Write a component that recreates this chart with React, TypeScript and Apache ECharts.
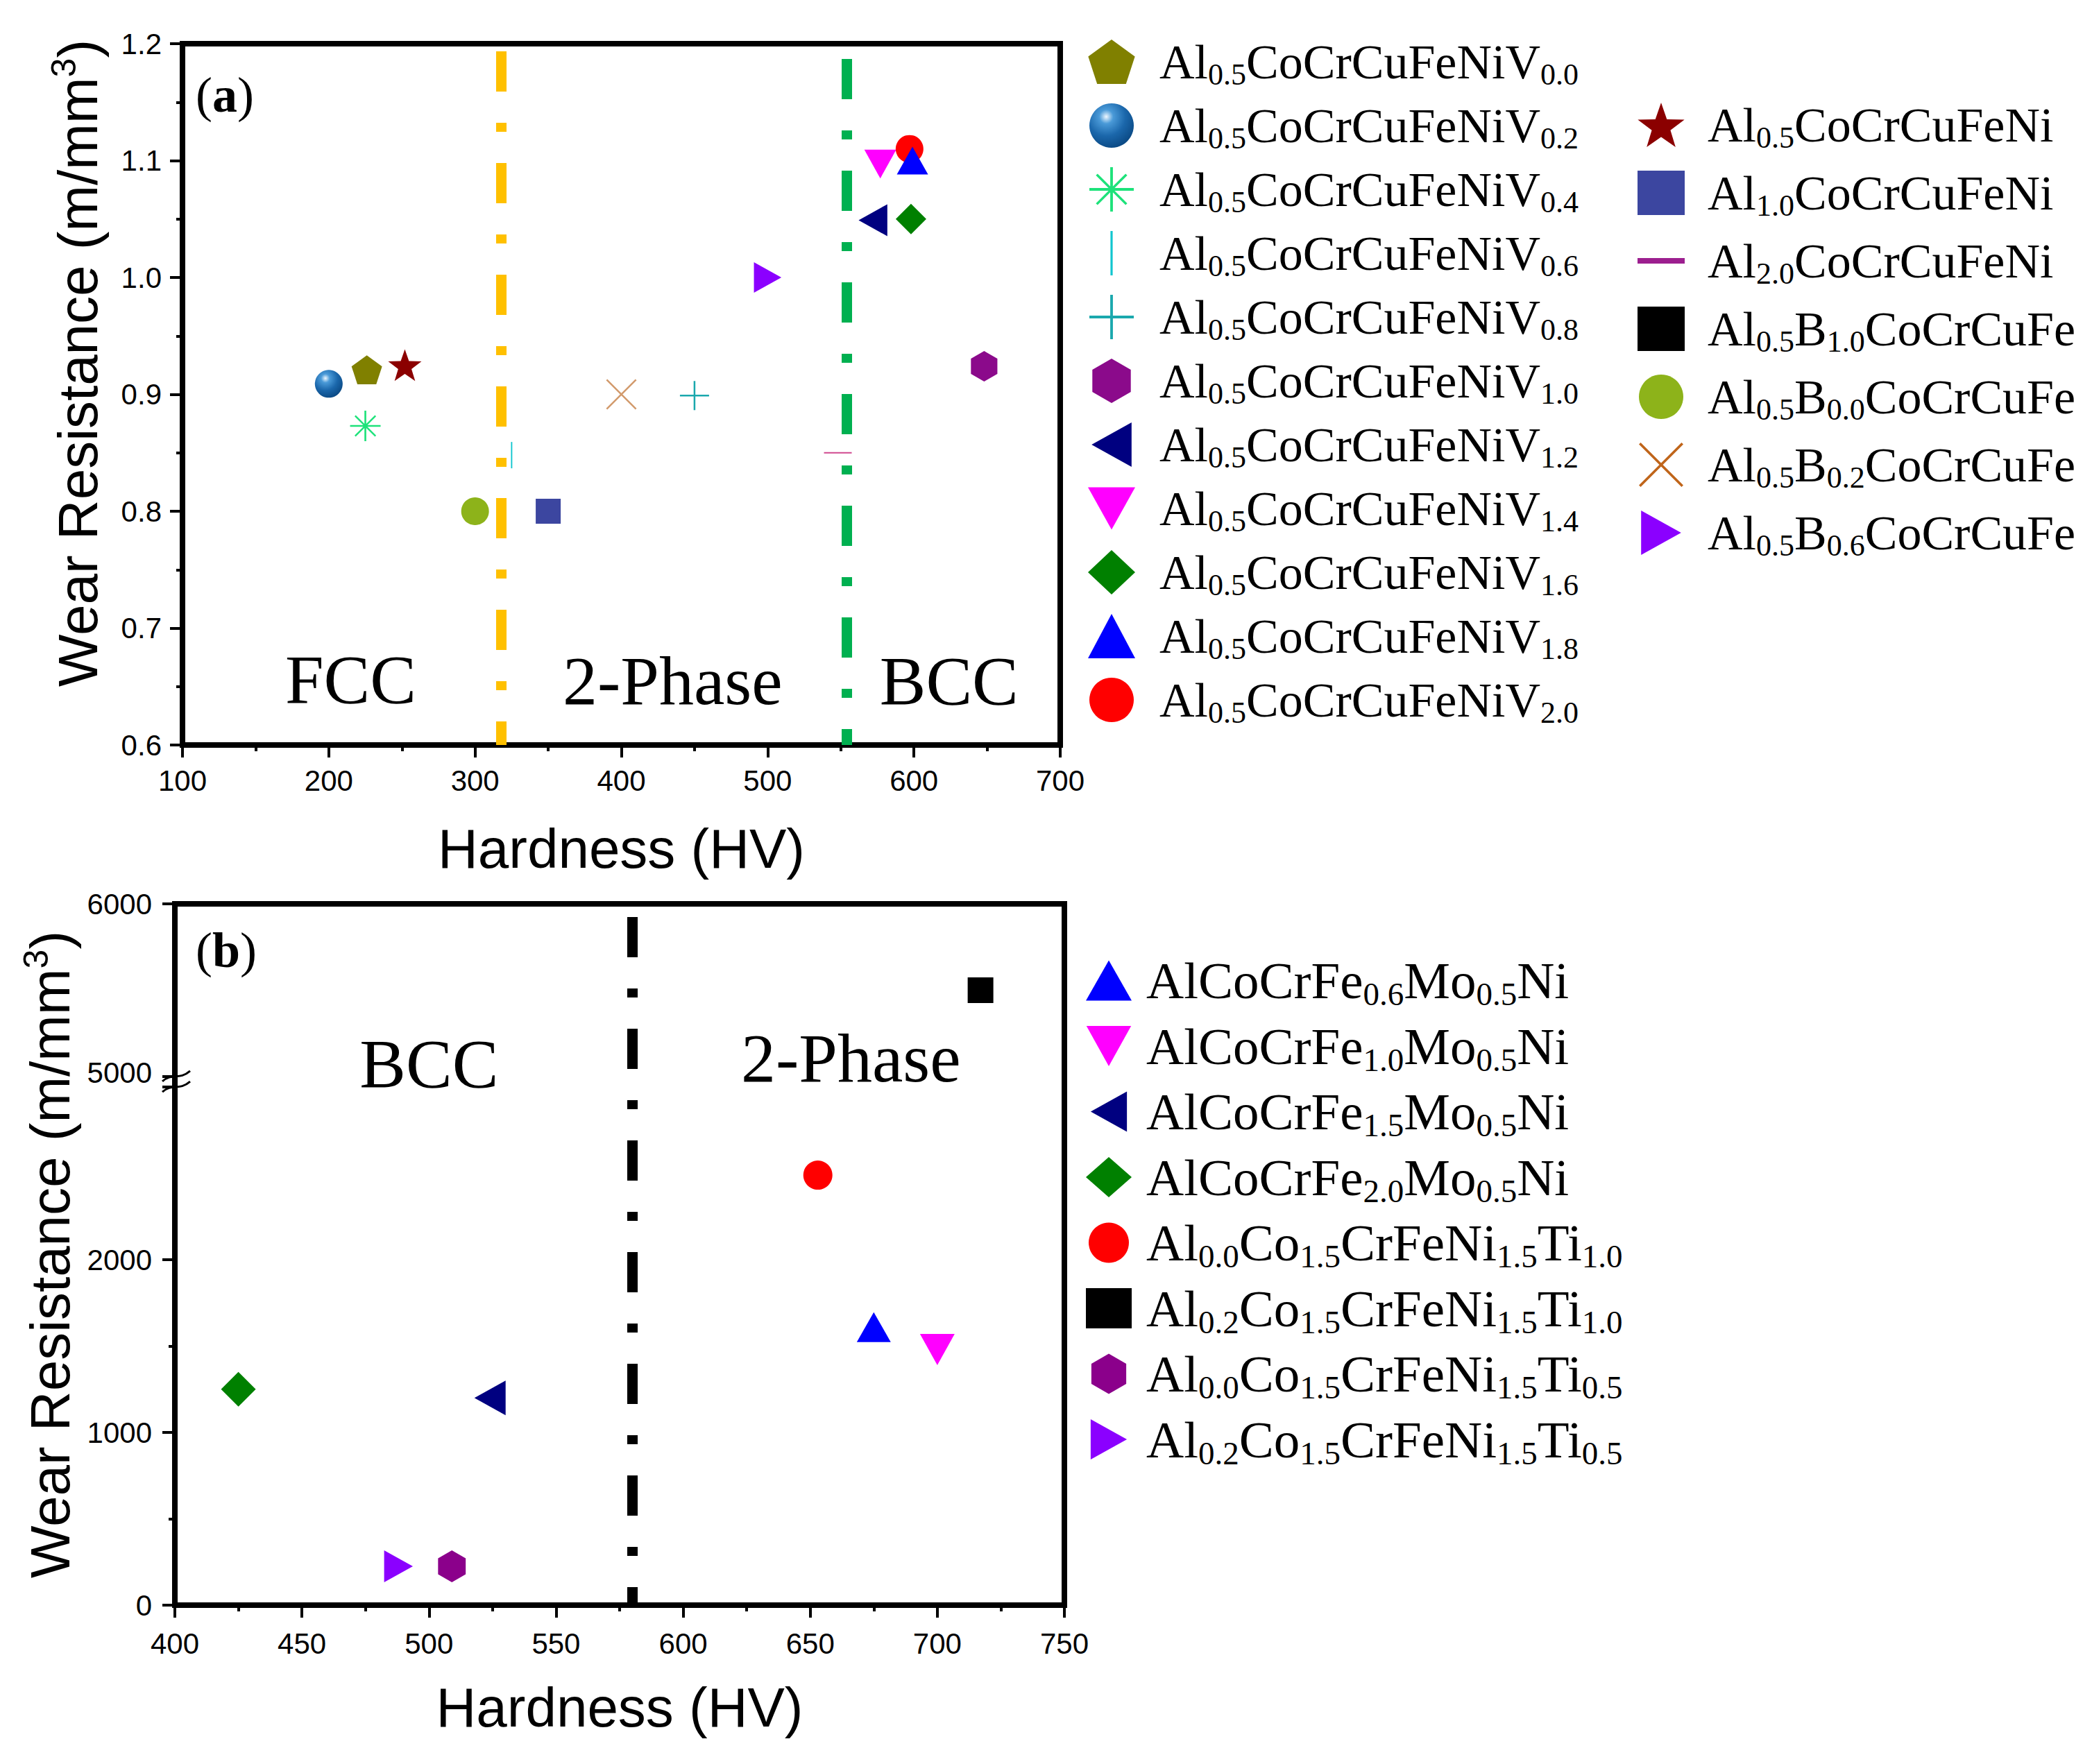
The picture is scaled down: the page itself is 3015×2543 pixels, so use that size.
import { useEffect, useRef } from 'react';
import * as echarts from 'echarts';

// ---------- panel (a) data ----------
const namesA = [
  'Al_{0.5}CoCrCuFeNiV_{0.0}',
  'Al_{0.5}CoCrCuFeNiV_{0.2}',
  'Al_{0.5}CoCrCuFeNiV_{0.4}',
  'Al_{0.5}CoCrCuFeNiV_{0.6}',
  'Al_{0.5}CoCrCuFeNiV_{0.8}',
  'Al_{0.5}CoCrCuFeNiV_{1.0}',
  'Al_{0.5}CoCrCuFeNiV_{1.2}',
  'Al_{0.5}CoCrCuFeNiV_{1.4}',
  'Al_{0.5}CoCrCuFeNiV_{1.6}',
  'Al_{0.5}CoCrCuFeNiV_{1.8}',
  'Al_{0.5}CoCrCuFeNiV_{2.0}',
  'Al_{0.5}CoCrCuFeNi',
  'Al_{1.0}CoCrCuFeNi',
  'Al_{2.0}CoCrCuFeNi',
  'Al_{0.5}B_{1.0}CoCrCuFe',
  'Al_{0.5}B_{0.0}CoCrCuFe',
  'Al_{0.5}B_{0.2}CoCrCuFe',
  'Al_{0.5}B_{0.6}CoCrCuFe',
];
const hardnessA = [226, 200, 225, 325, 450, 648, 572, 577, 598, 599, 597, 252, 350, 548, null, 300, 400, 500];
const wearA = [0.921, 0.909, 0.873, 0.848, 0.899, 0.924, 1.049, 1.097, 1.05, 1.1, 1.11, 0.925, 0.8, 0.85, null, 0.8, 0.9, 1.0];

const phaseLinesA = [318, 554];
const regionTextA = ['FCC', '2-Phase', 'BCC'];
const regionXA = [215, 435, 624];
const regionYA = [0.656, 0.655, 0.655];

// ---------- panel (b) data ----------
const namesB = [
  'AlCoCrFe_{0.6}Mo_{0.5}Ni',
  'AlCoCrFe_{1.0}Mo_{0.5}Ni',
  'AlCoCrFe_{1.5}Mo_{0.5}Ni',
  'AlCoCrFe_{2.0}Mo_{0.5}Ni',
  'Al_{0.0}Co_{1.5}CrFeNi_{1.5}Ti_{1.0}',
  'Al_{0.2}Co_{1.5}CrFeNi_{1.5}Ti_{1.0}',
  'Al_{0.0}Co_{1.5}CrFeNi_{1.5}Ti_{0.5}',
  'Al_{0.2}Co_{1.5}CrFeNi_{1.5}Ti_{0.5}',
];
const hardnessB = [675, 700, 524, 425, 653, 717, 509, 488];
const wearB = [1610, 1480, 1200, 1250, 2490, 5500, 225, 225];

const phaseLinesB = [580];
const regionTextB = ['BCC', '2-Phase'];
const regionXB = [500, 666];
const regionYB = [5075, 5105];

// ---------- symbols ----------
const SYM = {
  pentagon: 'path://M0,-10L9.51,-3.09L5.88,8.09L-5.88,8.09L-9.51,-3.09Z',
  hexagon: 'path://M0,-10L8.66,-5L8.66,5L0,10L-8.66,5L-8.66,-5Z',
  star: 'path://M0,-10L2.35,-3.24L9.51,-3.09L3.8,1.24L5.88,8.09L0,4L-5.88,8.09L-3.8,1.24L-9.51,-3.09L-2.35,-3.24Z',
  left: 'path://M0,5L9,0L9,10Z',
  right: 'path://M0,0L9,5L0,10Z',
  down: 'path://M0,0L10,0L5,9Z',
  vline: 'path://M0,0L1,0L1,20L0,20Z',
  hline: 'path://M0,0L20,0L20,1L0,1Z',
  hlineThick: 'path://M0,0L20,0L20,2.4L0,2.4Z',
  plus: 'path://M9.4,0L10.6,0L10.6,20L9.4,20Z M0,9.4L20,9.4L20,10.6L0,10.6Z',
  cross: 'path://M0,0.8L0.8,0L20,19.2L19.2,20Z M0.8,20L0,19.2L19.2,0L20,0.8Z',
  asterisk:
    'path://M9.4,0L10.6,0L10.6,20L9.4,20Z M0,9.4L20,9.4L20,10.6L0,10.6Z ' +
    'M2.93,3.7L3.7,2.93L17.07,16.3L16.3,17.07Z M3.7,17.07L2.93,16.3L16.3,2.93L17.07,3.7Z',
};

const sphereFill = new echarts.graphic.RadialGradient(0.38, 0.3, 0.72, [
  { offset: 0, color: '#eef7ff' },
  { offset: 0.22, color: '#4a9ad8' },
  { offset: 0.6, color: '#1b67ab' },
  { offset: 1, color: '#0b4a85' },
]);

type Sty = { symbol: string; size: number | number[]; color: any; z?: number };

const styleA: Sty[] = [
  { symbol: SYM.pentagon, size: 44, color: '#808000' },
  { symbol: 'circle', size: 40, color: sphereFill },
  { symbol: SYM.asterisk, size: 44, color: '#1de27a' },
  { symbol: SYM.vline, size: 38, color: '#12c6cf' },
  { symbol: SYM.plus, size: 42, color: '#1aa8ad' },
  { symbol: SYM.hexagon, size: 44, color: '#8b0a8b' },
  { symbol: SYM.left, size: 46, color: '#000080' },
  { symbol: SYM.down, size: 46, color: '#ff00ff' },
  { symbol: 'diamond', size: 44, color: '#008000' },
  { symbol: 'triangle', size: [45, 40], color: '#0000ff', z: 4 },
  { symbol: 'circle', size: 40, color: '#ff0000' },
  { symbol: SYM.star, size: 48, color: '#8b0000' },
  { symbol: 'rect', size: 36, color: '#3c46a0' },
  { symbol: SYM.hline, size: 40, color: '#d0488e' },
  { symbol: 'rect', size: 36, color: '#000000' },
  { symbol: 'circle', size: 40, color: '#8db31a' },
  { symbol: SYM.cross, size: 44, color: '#d29a6c' },
  { symbol: SYM.right, size: 44, color: '#8b00ff' },
];

// legend icons that differ from the plotted marks
const legendIconA: Record<number, { icon?: string; color: string }> = {
  13: { icon: SYM.hlineThick, color: '#9c1f8f' },
  16: { color: '#c0651a' },
};

const styleB: Sty[] = [
  { symbol: 'triangle', size: [49, 43], color: '#0000ff' },
  { symbol: SYM.down, size: 50, color: '#ff00ff' },
  { symbol: SYM.left, size: 50, color: '#000080' },
  { symbol: 'diamond', size: 50, color: '#008000' },
  { symbol: 'circle', size: 42, color: '#ff0000' },
  { symbol: 'rect', size: 37, color: '#000000' },
  { symbol: SYM.hexagon, size: 46, color: '#8b008b' },
  { symbol: SYM.right, size: 46, color: '#8b00ff' },
];

const SANS = 'Liberation Sans';
const SERIF = 'Liberation Serif';
const DASH = [58, 45, 13, 45];

// 'Al_{0.5}Co' -> rich text with subscripts
const toRich = (name: string) =>
  '{sp| }' +
  name
    .split(/(_\{[^}]*\})/)
    .filter((s) => s.length)
    .map((s) => (s.startsWith('_{') ? `{s|${s.slice(2, -1)}}` : `{m|${s}}`))
    .join('');

const legendRich = (size: number, sub: number, lh: number, sp: number) => ({
  sp: { width: sp, fontSize: 10 },
  m: { fontFamily: SERIF, fontSize: size, lineHeight: lh, color: '#000' },
  s: { fontFamily: SERIF, fontSize: sub, lineHeight: 30, verticalAlign: 'bottom', color: '#000' },
});

const axisBase = {
  axisLine: { show: true, onZero: false, lineStyle: { color: '#000', width: 8 } },
  axisTick: { show: true, inside: false, length: 18, lineStyle: { color: '#000', width: 4 } },
  minorTick: { show: true, splitNumber: 2, length: 9, lineStyle: { color: '#000', width: 4 } },
  splitLine: { show: false },
  minorSplitLine: { show: false },
  nameLocation: 'middle',
};

const labelStyle = { color: '#000', fontSize: 42, fontFamily: SANS };
const nameStyle = { color: '#000', fontSize: 80, fontFamily: SANS, lineHeight: 90 };
const yNameRich = {
  a: { color: '#000', fontSize: 80, fontFamily: SANS, lineHeight: 90 },
  u: { color: '#000', fontSize: 50, fontFamily: SANS, lineHeight: 56, verticalAlign: 'top' },
};
const yName = '{a|Wear Resistance (m/mm}{u|3}{a|)}';

const scatterSeries = (
  names: string[],
  xs: (number | null)[],
  ys: (number | null)[],
  styles: Sty[],
  axis: number
) =>
  names.map((name, i) => ({
    type: 'scatter',
    name,
    xAxisIndex: axis,
    yAxisIndex: axis,
    symbol: styles[i].symbol,
    symbolSize: styles[i].size,
    symbolKeepAspect: true,
    itemStyle: { color: styles[i].color, opacity: 1 },
    z: styles[i].z ?? 2,
    emphasis: { disabled: true },
    data: xs[i] == null || ys[i] == null ? [] : [[xs[i], ys[i]]],
  }));

const phaseLine = (x: number, color: string, offset: number) => ({
  xAxis: x,
  lineStyle: { color, width: 15, type: DASH, dashOffset: offset, cap: 'butt' },
});

const regionSeries = (xs: number[], ys: number[], texts: string[], axis: number) => ({
  type: 'scatter',
  name: `region${axis}`,
  xAxisIndex: axis,
  yAxisIndex: axis,
  symbol: 'circle',
  symbolSize: 1,
  silent: true,
  z: 5,
  itemStyle: { color: '#fff', opacity: 0 },
  label: {
    show: true,
    position: 'inside',
    formatter: (p: any) => texts[p.dataIndex],
    fontFamily: SERIF,
    fontSize: 100,
    color: '#000',
    opacity: 1,
    textBorderWidth: 0,
  },
  data: xs.map((x, i) => [x, ys[i]]),
});

function buildOption(): any {
  const seriesA: any[] = scatterSeries(namesA, hardnessA, wearA, styleA, 0);
  seriesA[0].markLine = {
    silent: true,
    symbol: 'none',
    label: { show: false },
    emphasis: { disabled: true },
    data: [phaseLine(phaseLinesA[0], '#ffc000', 24), phaseLine(phaseLinesA[1], '#00b050', 35)],
  };
  const seriesB: any[] = scatterSeries(namesB, hardnessB, wearB, styleB, 1);
  seriesB[0].markLine = {
    silent: true,
    symbol: 'none',
    label: { show: false },
    emphasis: { disabled: true },
    data: [phaseLine(phaseLinesB[0], '#000000', 32)],
  };

  const richTitle = {
    p: { fontFamily: SERIF, fontSize: 72, lineHeight: 72, fontWeight: 'normal', color: '#000' },
    b: { fontFamily: SERIF, fontSize: 72, lineHeight: 72, fontWeight: 'bold', color: '#000' },
  };

  const legendItems = (names: string[], offset: number) =>
    names.map((name, i) => {
      const o = legendIconA[i + offset];
      return o ? { name, ...(o.icon ? { icon: o.icon } : {}), itemStyle: { color: o.color } } : { name };
    });

  return {
    animation: false,
    backgroundColor: '#fff',
    textStyle: { fontFamily: SANS },
    title: [
      { text: '{p|(}{b|a}{p|)}', left: 282, top: 101, padding: 0, textStyle: { fontWeight: 'normal', rich: richTitle } },
      { text: '{p|(}{b|b}{p|)}', left: 282, top: 1334, padding: 0, textStyle: { fontWeight: 'normal', rich: richTitle } },
    ],
    grid: [
      { left: 263, top: 63, width: 1265, height: 1011, show: true, borderColor: '#000', borderWidth: 8, backgroundColor: 'transparent', outerBoundsMode: 'none' },
      { left: 252, top: 1303, width: 1282, height: 1011, show: true, borderColor: '#000', borderWidth: 8, backgroundColor: 'transparent', outerBoundsMode: 'none' },
    ],
    xAxis: [
      {
        ...axisBase,
        type: 'value',
        gridIndex: 0,
        min: 100,
        max: 700,
        interval: 100,
        name: 'Hardness (HV)',
        nameGap: 104,
        nameTextStyle: nameStyle,
        axisLabel: { ...labelStyle, margin: 30 },
      },
      {
        ...axisBase,
        type: 'value',
        gridIndex: 1,
        min: 400,
        max: 750,
        interval: 50,
        name: 'Hardness (HV)',
        nameGap: 102,
        nameTextStyle: nameStyle,
        axisLabel: { ...labelStyle, margin: 34 },
      },
    ],
    yAxis: [
      {
        ...axisBase,
        type: 'value',
        gridIndex: 0,
        min: 0.6,
        max: 1.2,
        interval: 0.1,
        name: yName,
        nameGap: 106,
        nameTextStyle: { rich: yNameRich, padding: [0, 0, 0, 90] },
        axisLabel: { ...labelStyle, margin: 30, formatter: (v: number) => v.toFixed(1) },
      },
      {
        ...axisBase,
        type: 'value',
        gridIndex: 1,
        min: 0,
        max: 6000,
        interval: 1000,
        breaks: [{ start: 3000, end: 5000, gap: '1.5%' }],
        breakArea: { show: false },
        name: yName,
        nameGap: 135,
        nameTextStyle: { rich: yNameRich },
        axisLabel: { ...labelStyle, margin: 33, formatter: (v: number) => (v === 3000 ? '' : String(v)) },
      },
    ],
    legend: [
      {
        data: legendItems(namesA.slice(0, 11), 0),
        orient: 'vertical',
        left: 1568,
        top: 54,
        padding: 0,
        itemGap: 17,
        itemWidth: 68,
        itemHeight: 64,
        selectedMode: false,
        formatter: toRich,
        textStyle: { rich: legendRich(70, 44, 80, 30) },
      },
      {
        data: legendItems(namesA.slice(11), 11),
        orient: 'vertical',
        left: 2360,
        top: 145,
        padding: 0,
        itemGap: 23,
        itemWidth: 68,
        itemHeight: 64,
        selectedMode: false,
        formatter: toRich,
        textStyle: { rich: legendRich(70, 44, 80, 28) },
      },
      {
        data: namesB,
        orient: 'vertical',
        left: 1565,
        top: 1376,
        padding: 0,
        itemGap: 14,
        itemWidth: 66,
        itemHeight: 58,
        selectedMode: false,
        formatter: toRich,
        textStyle: { rich: legendRich(75, 47, 86, 16) },
      },
    ],
    series: [
      ...seriesA,
      regionSeries(regionXA, regionYA, regionTextA, 0),
      ...seriesB,
      regionSeries(regionXB, regionYB, regionTextB, 1),
    ],
  };
}

export default function App() {
  const ref = useRef<HTMLDivElement>(null);

  useEffect(() => {
    if (!ref.current) return;
    const chart = echarts.init(ref.current, null, { renderer: 'svg' });
    chart.setOption(buildOption());

    // small "≈" marks where the y axis of (b) is broken
    const lo = chart.convertToPixel({ gridIndex: 1 }, [400, 3000]) as number[];
    const hi = chart.convertToPixel({ gridIndex: 1 }, [400, 5000]) as number[];
    const mark = (x: number, y: number) => ({
      type: 'bezierCurve',
      silent: true,
      z: 50,
      shape: { x1: x - 18, y1: y + 7, cpx1: x - 4, cpy1: y - 6, cpx2: x + 6, cpy2: y + 6, x2: x + 22, y2: y - 8 },
      style: { stroke: '#000', lineWidth: 3, fill: 'none' },
    });
    if (lo && hi) {
      chart.setOption({ graphic: [mark(lo[0], hi[1]), mark(lo[0], lo[1])] });
    }

    return () => chart.dispose();
  }, []);

  return (
    <div
      ref={ref}
      style={{ position: 'fixed', left: 0, top: 0, width: 3015, height: 2543, background: '#fff' }}
    />
  );
}
